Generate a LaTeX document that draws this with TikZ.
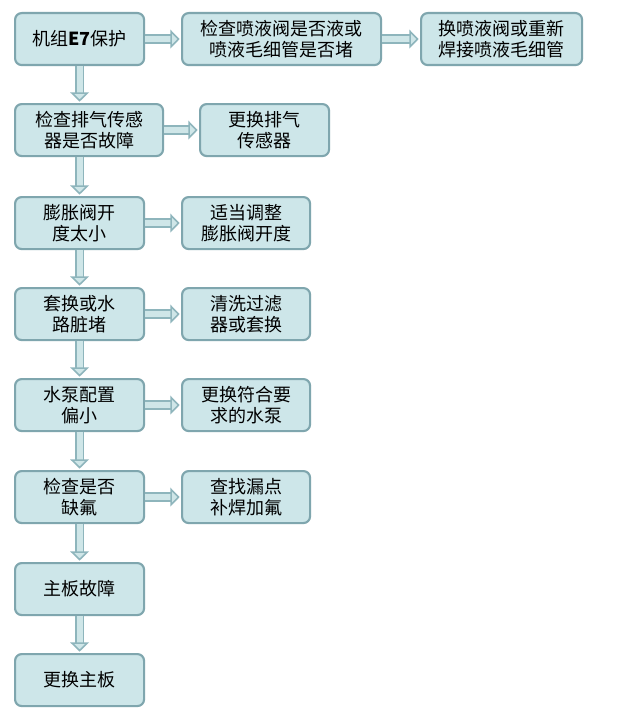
\documentclass[tikz,border=0pt]{standalone}
\usepackage{fontspec}
\setmainfont{Noto Sans CJK SC}
\usetikzlibrary{arrows.meta}
\definecolor{bfill}{HTML}{CDE6E9}
\definecolor{bdraw}{HTML}{7FA6AE}
\definecolor{aout}{HTML}{8EB5BC}
\definecolor{ain}{HTML}{CFE6E8}
\begin{document}
\begin{tikzpicture}[x=0.75pt,y=-0.75pt,
  box/.style={draw=bdraw,fill=bfill,line width=1.6pt,rounded corners=5pt,inner sep=0pt,align=center,font=\fontsize{13.5}{16}\selectfont,anchor=north west},
  arr/.style={draw=aout,line width=1.2pt,double=ain,double distance=4.5pt,-{Triangle[length=7pt,width=14pt,fill=ain]},shorten >=1pt}]
\useasboundingbox (0,0) rectangle (622,710);
\fill[white] (0,0) rectangle (622,710);
\newcommand{\bx}[6]{\node[box,minimum width={(#4-#2)*0.75pt},minimum height={(#5-#3)*0.75pt}] (#1) at (#2,#3) {#6};}
\bx{a}{14}{12}{143}{64}{机组\textbf{E7}保护}
\bx{b}{181}{12}{380}{64}{检查喷液阀是否液或\\喷液毛细管是否堵}
\bx{c}{420}{12}{581}{64}{换喷液阀或重新\\焊接喷液毛细管}
\bx{d}{14}{103}{162}{155}{检查排气传感\\器是否故障}
\bx{e}{199}{103}{328}{155}{更换排气\\传感器}
\bx{f}{14}{196}{143}{248}{膨胀阀开\\度太小}
\bx{g}{181}{196}{309}{248}{适当调整\\膨胀阀开度}
\bx{h}{14}{287}{143}{339}{套换或水\\路脏堵}
\bx{i}{181}{287}{309}{339}{清洗过滤\\器或套换}
\bx{j}{14}{378}{143}{430}{水泵配置\\偏小}
\bx{k}{181}{378}{309}{430}{更换符合要\\求的水泵}
\bx{l}{14}{470}{143}{522}{检查是否\\缺氟}
\bx{m}{181}{470}{309}{522}{查找漏点\\补焊加氟}
\bx{n}{14}{562}{143}{614}{主板故障}
\bx{o}{14}{653}{143}{705}{更换主板}
\foreach \s/\t in {a/b,b/c,d/e,f/g,h/i,j/k,l/m} \draw[arr] (\s.east) -- (\t.west);
\foreach \s/\t in {a/d,d/f,f/h,h/j,j/l,l/n,n/o} \draw[arr] (\s.south -| a.south) -- (\t.north -| a.south);
\end{tikzpicture}
\end{document}
